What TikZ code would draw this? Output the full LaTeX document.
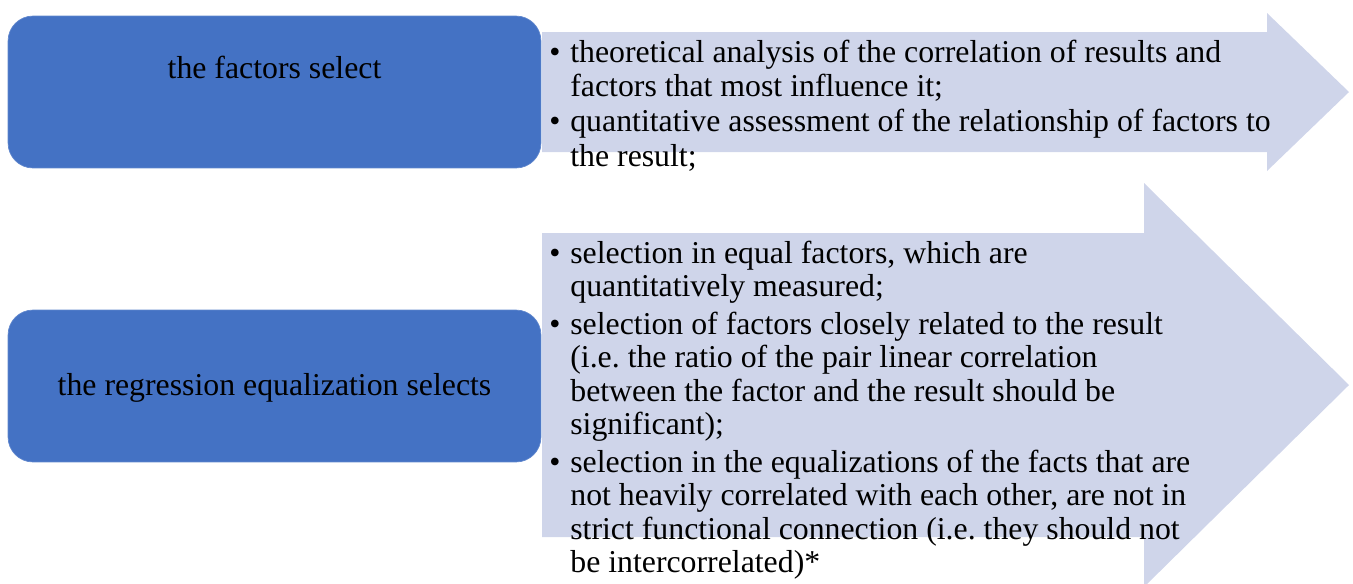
\documentclass[tikz,border=0pt]{standalone}
\usepackage{fontspec}
\setmainfont{Liberation Serif}
\usetikzlibrary{positioning}
\definecolor{stagefill}{HTML}{4472C4}
\definecolor{bandfill}{HTML}{CFD5EA}
\frenchspacing

\newcommand{\bul}{\makebox[0.42cm][l]{\textbullet}}

\begin{document}
\begin{tikzpicture}[x=0.02cm, y=-0.02cm,
    stage/.style={draw=stagefill!85!white, fill=stagefill, rounded corners=0.5cm, minimum width=10.66cm, minimum height=3.04cm},
    caption/.style={font=\fontsize{18.1}{21}\selectfont, text=black, inner sep=0pt, anchor=base},
    points/.style={text=black, inner sep=0pt, anchor=base west},
    band/.style={fill=bandfill, draw=none},
]
\useasboundingbox (0,0) rectangle (1353,583);
\clip (0,0) rectangle (1353,583);

% Row 1: factor selection
\fill[band] (542,32) -- (1267,32) -- (1267,13) -- (1349,92) -- (1267,171) -- (1267,152) -- (542,152) -- cycle;
\node[stage] (sel1) at (274.5,92) {};
\node[caption] (sel1text) at (274.5,78) {the factors select};

\node[points, font=\fontsize{18.1}{19.9}\selectfont] (list1) at (549,62) {%
  \begin{tabular}[t]{@{}l@{}l@{}}
  \bul & theoretical analysis of the correlation of results and\\
       & factors that most influence it;\\
  \bul & quantitative assessment of the relationship of factors to\\
       & the result;
  \end{tabular}};

% Row 2: regression equation
\fill[band] (542,233) -- (1144,233) -- (1144,183) -- (1349,385) -- (1144,587) -- (1144,537) -- (542,537) -- cycle;
\node[stage] (sel2) at (274.5,386) {};
\node[caption] (sel2text) at (274.5,395) {the regression equalization selects};

\node[points, font=\fontsize{18.1}{19.07}\selectfont] (list2) at (549,263) {%
  \begin{tabular}[t]{@{}l@{}l@{}}
  \bul & selection in equal factors, which are\\
       & quantitatively measured;\\[0.08cm]
  \bul & selection of factors closely related to the result\\
       & (i.e. the ratio of the pair linear correlation\\
       & between the factor and the result should be\\
       & significant);\\[0.08cm]
  \bul & selection in the equalizations of the facts that are\\
       & not heavily correlated with each other, are not in\\
       & strict functional connection (i.e. they should not\\
       & be intercorrelated)*
  \end{tabular}};

\end{tikzpicture}
\end{document}
